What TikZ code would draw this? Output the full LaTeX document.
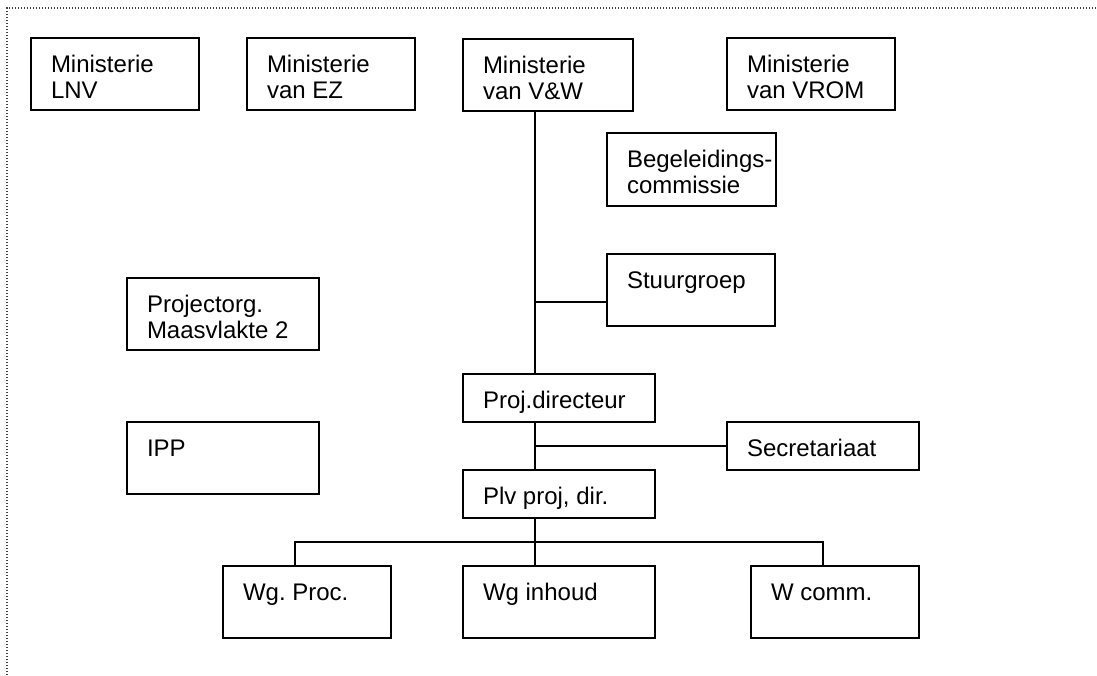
\documentclass[tikz,border=0pt]{standalone}
\usepackage{fontspec}
\setmainfont{Liberation Sans}
\begin{document}
\frenchspacing
\begin{tikzpicture}[x=1pt,y=1pt,
  box/.style={draw, line width=2pt, rectangle, inner sep=0pt, outer sep=0pt},
  lbl/.style={inner sep=0pt, outer sep=0pt, font=\fontsize{24}{26}\selectfont},
  conn/.style={line width=2pt},
  frame/.style={line width=1.6pt, black!75, dash pattern=on 1.4pt off 1.6pt}]
\useasboundingbox (0,0) rectangle (1097,-675);
\newcommand{\oboxI}[6]{%
  \node[box, minimum width={(#4-#2)*1pt}, minimum height={(#5-#3)*1pt}] (#1) at ({(#2+#4)/2},{-(#3+#5)/2}) {};
  \node[lbl, anchor=base west] (#1a) at ({#2+20},{-(#3+34)}) {#6};}
\newcommand{\oboxII}[7]{%
  \oboxI{#1}{#2}{#3}{#4}{#5}{#6}%
  \node[lbl, anchor=base west] (#1b) at ({#2+20},{-(#3+60)}) {#7};}
% frame
\draw[frame] (7,-675) -- (7,-8) -- (1097,-8);
% boxes
\oboxII{lnv}{31}{38}{199}{110}{Ministerie}{LNV}
\oboxII{ez}{247}{38}{415}{110}{Ministerie}{van EZ}
\oboxII{vw}{463}{39}{633}{111}{Ministerie}{van V\&W}
\oboxII{vrom}{727}{38}{895}{110}{Ministerie}{van VROM}
\oboxII{bc}{607}{133}{776}{206}{Begeleidings-}{commissie}
\oboxI{sg}{607}{254}{775}{326}{Stuurgroep}
\oboxII{po}{127}{278}{319}{350}{Projectorg.}{Maasvlakte 2}
\oboxI{ipp}{127}{422}{319}{494}{IPP}
\oboxI{pd}{463}{374}{655}{422}{Proj.directeur}
\oboxI{sec}{727}{422}{919}{470}{Secretariaat}
\oboxI{plv}{463}{470}{655}{518}{Plv proj, dir.}
\oboxI{wgp}{223}{566}{391}{638}{Wg. Proc.}
\oboxI{wgi}{463}{566}{655}{638}{Wg inhoud}
\oboxI{wgc}{751}{566}{919}{638}{W comm.}
% junctions
\coordinate (j1) at (535,-302);
\coordinate (j2) at (535,-446);
\coordinate (j3) at (535,-542);
\coordinate (b1) at (295,-542);
\coordinate (b2) at (823,-542);
% connectors
\draw[conn] (vw.south -| j1) -- (pd.north -| j1);
\draw[conn] (j1) -- (sg.west |- j1);
\draw[conn] (pd.south -| j2) -- (plv.north -| j2);
\draw[conn] (j2) -- (sec.west |- j2);
\draw[conn] (plv.south -| j3) -- (wgi.north -| j3);
\draw[conn] (wgp.north -| b1) -- (b1) -- (b2) -- (wgc.north -| b2);
\end{tikzpicture}
\end{document}
